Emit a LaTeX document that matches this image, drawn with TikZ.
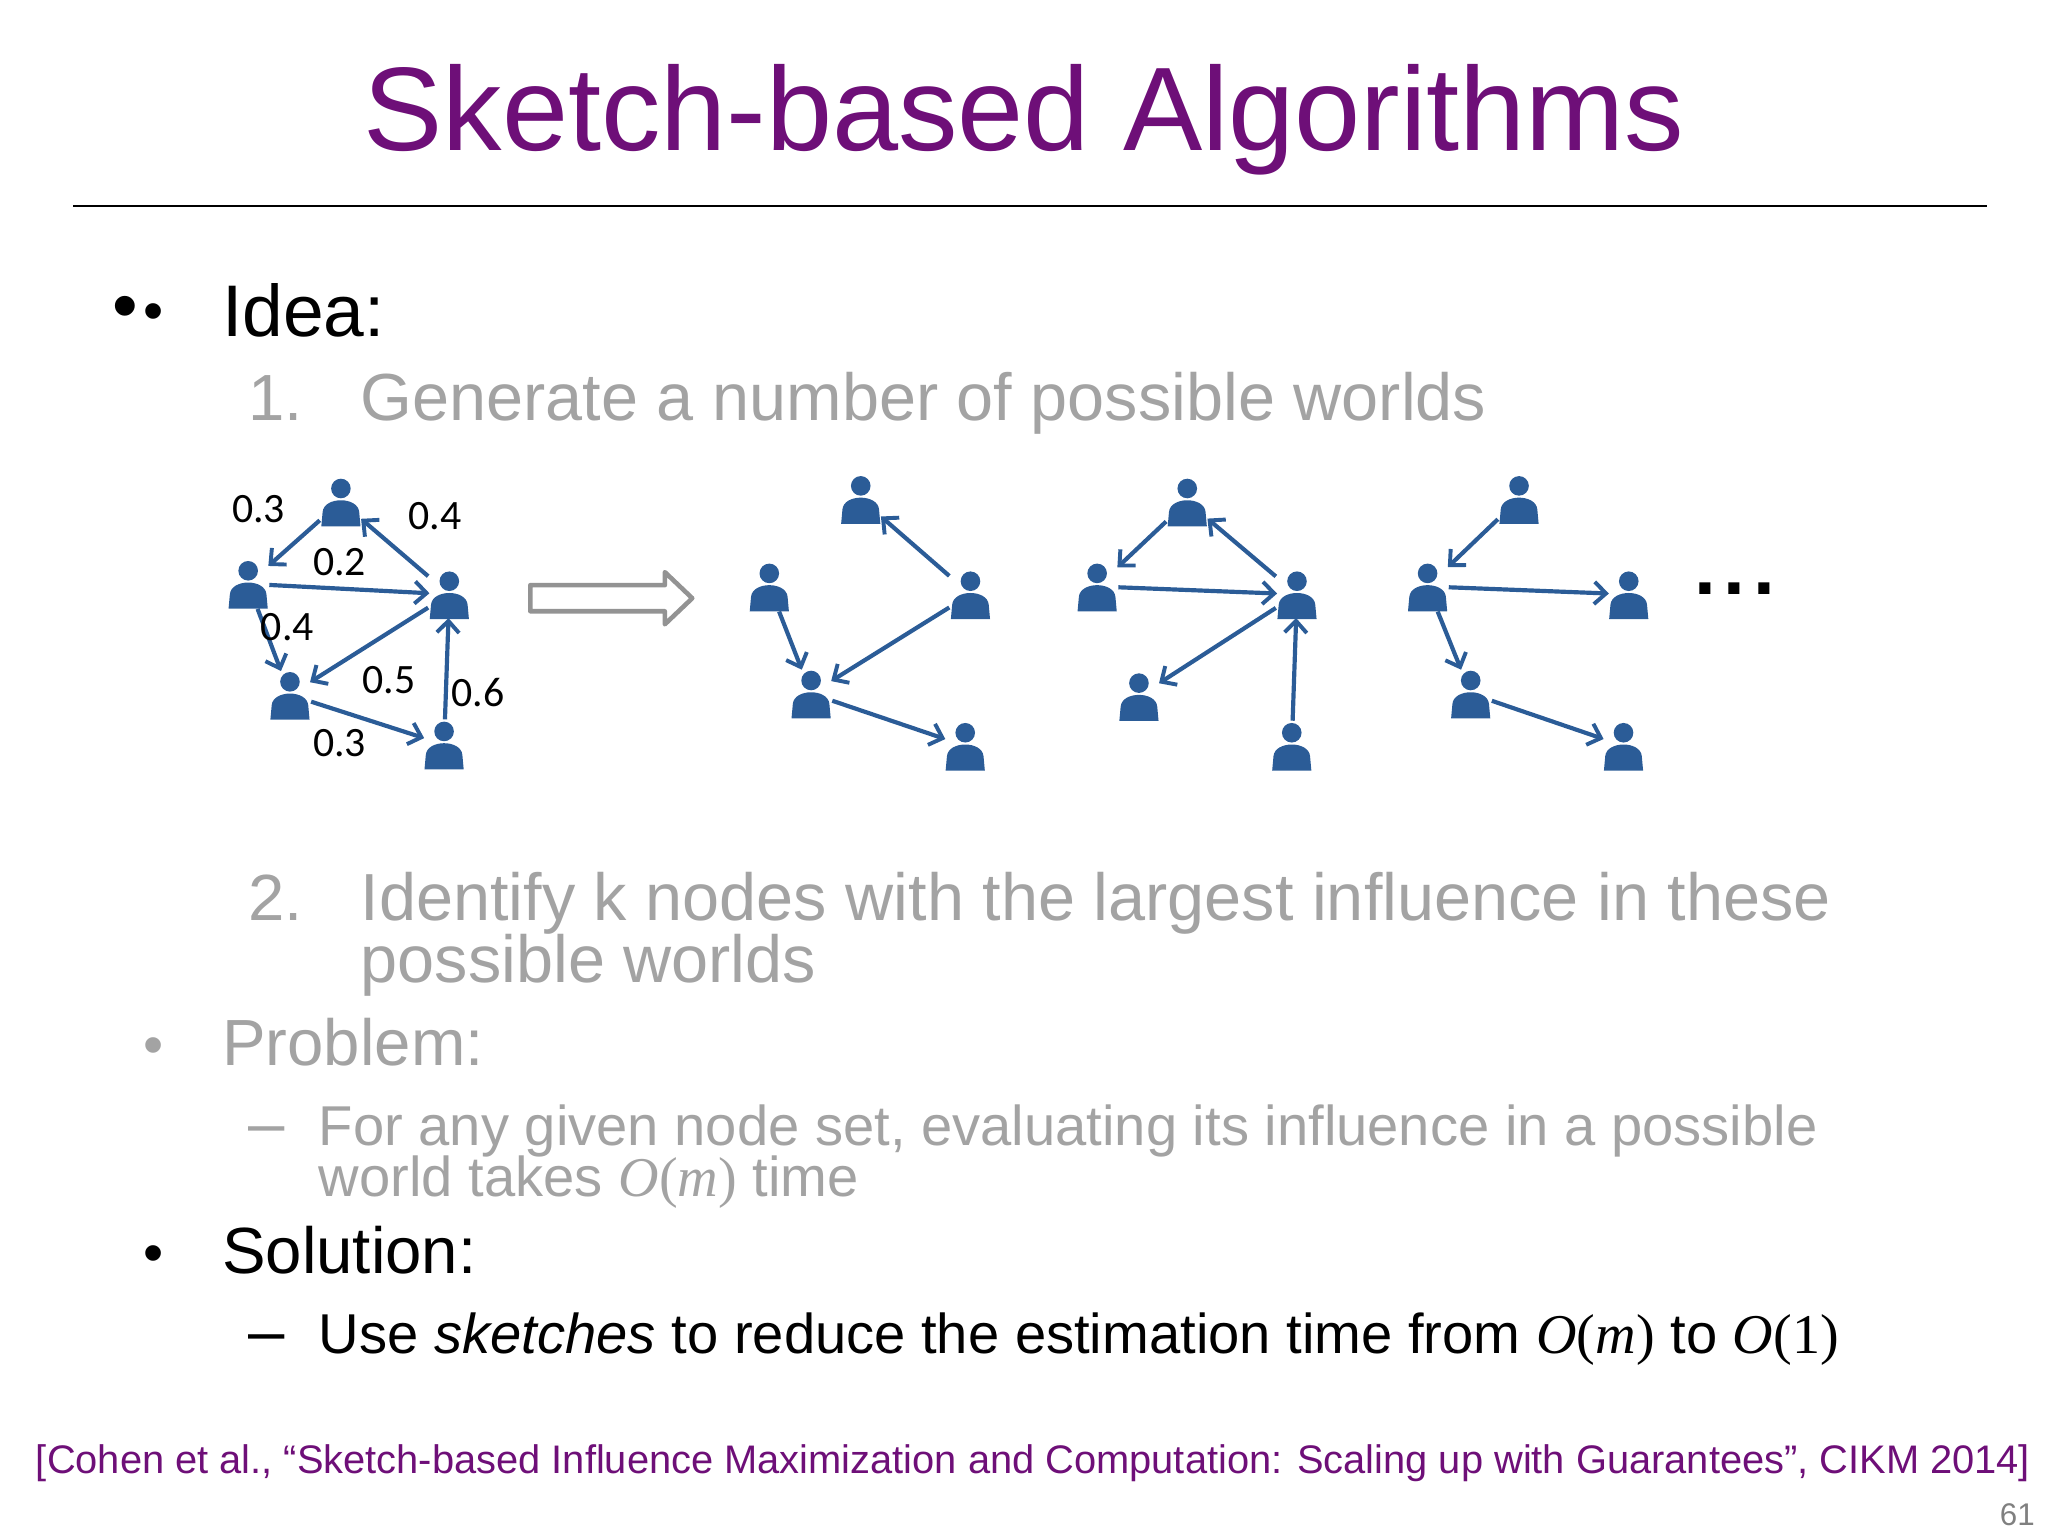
\documentclass[tikz,border=0pt]{standalone}
\usepackage{fontspec}
\setmainfont{Liberation Sans}
\newfontfamily\lblfont{Carlito}
\newfontfamily\myserif{Liberation Serif}
\newcommand{\Om}[1]{{\myserif\textit{O}(\textit{#1})}}
\newcommand{\Oone}{{\myserif\textit{O}(1)}}
\usetikzlibrary{arrows.meta}
\definecolor{ttl}{HTML}{6E0F78}
\definecolor{fade}{HTML}{A3A3A3}
\definecolor{pblue}{HTML}{2B5C97}
\tikzset{
 person/.style={rectangle,minimum width=32,minimum height=38,inner sep=0,
  path picture={\fill[pblue] ([shift={(0,-10)}]path picture bounding box.center) circle (7.5);
   \fill[pblue,shift={(path picture bounding box.center)}] (-15,19) -- (-14,8) .. controls (-13,-4) and (13,-4) .. (14,8) -- (15,19) -- cycle;}},
 edge/.style={pblue,line width=3.2,-{Straight Barb[length=9,width=17,line width=3]},shorten >=-1,shorten <=0},
 lbl/.style={font=\lblfont\fontsize{32}{32}\selectfont,inner sep=0},
 txt/.style={anchor=base west,inner sep=0,font=\fontsize{50}{50}\selectfont},
}
\begin{document}
\begin{tikzpicture}[x=1pt,y=-1pt]
\useasboundingbox (0,0) rectangle (1568,1176);
\node[anchor=base,inner sep=0,text=ttl,font=\fontsize{91}{91}\selectfont] (title) at (784,115) {Sketch-based Algorithms};
\draw[line width=1.5] (56,158) -- (1521,158);
\node[txt,font=\fontsize{56}{56}\selectfont] (b0) at (86,253) {•};
\node[txt,font=\fontsize{44}{44}\selectfont] (b1) at (110,253) {•};
\node[txt,font=\fontsize{56}{56}\selectfont] (idea) at (170,258) {Idea:};
\node[txt,text=fade] (s1n) at (190,322) {1.};
\node[txt,text=fade,font=\fontsize{51}{51}\selectfont] (s1) at (276,322) {Generate a number of possible worlds};
% graph 1
\foreach \n/\x/\y in {a/261/384,b/190/447,c/344/455,d/222/532,e/340/570}
  \node[person] (\n1) at (\x,\y) {};
\draw[edge] (a1) -- (b1);
\draw[edge] (c1) -- (a1);
\draw[edge] (b1) -- (c1);
\draw[edge] (b1) -- (d1);
\draw[edge] (c1) -- (d1);
\draw[edge] (e1) -- (c1);
\draw[edge] (d1) -- (e1);
\node[lbl] (l1) at (198,390) {0.3};
\node[lbl] (l2) at (333,395) {0.4};
\node[lbl] (l3) at (260,430) {0.2};
\node[lbl] (l4) at (220,480) {0.4};
\node[lbl] (l5) at (298,521) {0.5};
\node[lbl] (l6) at (366,530) {0.6};
\node[lbl] (l7) at (260,569) {0.3};
% hollow arrow
\draw[gray!85,line width=3.5,line join=round] (406,448) -- (509,448) -- (509,438) -- (530,458) -- (509,478) -- (509,468) -- (406,468) -- cycle;
% graph 2
\foreach \n/\x/\y in {a/659/382,b/589/449,c/743/455,d/621/531,e/739/571}
  \node[person] (\n2) at (\x,\y) {};
\draw[edge] (c2) -- (a2);
\draw[edge] (b2) -- (d2);
\draw[edge] (c2) -- (d2);
\draw[edge] (d2) -- (e2);
% graph 3
\foreach \n/\x/\y in {a/909/384,b/840/449,c/993/455,d/872/533,e/989/571}
  \node[person] (\n3) at (\x,\y) {};
\draw[edge] (a3) -- (b3);
\draw[edge] (c3) -- (a3);
\draw[edge] (b3) -- (c3);
\draw[edge] (c3) -- (d3);
\draw[edge] (e3) -- (c3);
% graph 4
\foreach \n/\x/\y in {a/1163/382,b/1093/449,c/1247/455,d/1126/531,e/1243/571}
  \node[person] (\n4) at (\x,\y) {};
\draw[edge] (a4) -- (b4);
\draw[edge] (b4) -- (c4);
\draw[edge] (b4) -- (d4);
\draw[edge] (d4) -- (e4);
\node[anchor=base,inner sep=0,font=\fontsize{60}{60}\selectfont\bfseries] (dots) at (1328,455) {.\hspace{6pt}.\hspace{6pt}.};
% text
\node[txt,text=fade] (s2n) at (190,705) {2.};
\node[txt,text=fade,font=\fontsize{51}{51}\selectfont] (s2) at (276,705) {Identify k nodes with the largest influence in these};
\node[txt,text=fade,font=\fontsize{51}{51}\selectfont] (s2b) at (276,752) {possible worlds};
\node[txt,text=fade,font=\fontsize{44}{44}\selectfont] (bp) at (110,815) {•};
\node[txt,text=fade] (prob) at (170,816) {Problem:};
\node[txt,text=fade] (dp) at (190,877) {–};
\node[txt,text=fade,font=\fontsize{43}{43}\selectfont] (p1) at (244,877) {For any given node set, evaluating its influence in a possible};
\node[txt,text=fade,font=\fontsize{43}{43}\selectfont] (p2) at (244,916) {world takes \Om{m} time};
\node[txt,font=\fontsize{44}{44}\selectfont] (bs) at (110,974) {•};
\node[txt] (sol) at (170,975) {Solution:};
\node[txt] (ds) at (190,1036) {–};
\node[txt,font=\fontsize{43}{43}\selectfont] (u) at (244,1036) {Use \textit{sketches} to reduce the estimation time from \Om{m} to \Oone};
\node[anchor=base,inner sep=0,text=ttl,font=\fontsize{30.5}{30.5}\selectfont] (cite) at (791,1128) {[Cohen et al., “Sketch-based Influence Maximization and Computation: Scaling up with Guarantees”, CIKM 2014]};
\node[anchor=base east,inner sep=0,text=gray,font=\fontsize{24}{24}\selectfont] (pg) at (1558,1168) {61};
\end{tikzpicture}
\end{document}
